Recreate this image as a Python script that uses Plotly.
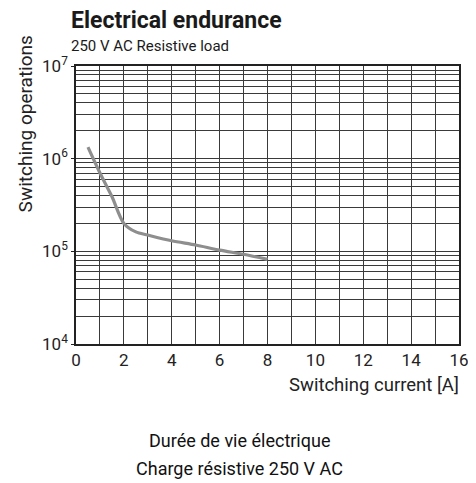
import plotly.graph_objects as go

# Data
current_a = [0.5, 1.0, 1.5, 2.0, 2.5, 3.0, 4.0, 5.0, 6.0, 7.0, 8.0]
operations = [1.33e6, 7.0e5, 3.9e5, 2.0e5, 1.62e5, 1.5e5, 1.30e5, 1.17e5, 1.03e5, 9.3e4, 8.2e4]

x_tickvals = [0, 2, 4, 6, 8, 10, 12, 14, 16]
x_ticktext = [str(v) for v in x_tickvals]
y_tickvals = [1e4, 1e5, 1e6, 1e7]
y_ticktext = ["10<sup>4</sup>", "10<sup>5</sup>", "10<sup>6</sup>", "10<sup>7</sup>"]

cond = "Roboto, Arial, sans-serif"
grid_col = "#3a3a3a"

fig = go.Figure()
fig.add_trace(go.Scatter(
    x=current_a, y=operations, mode="lines",
    line=dict(color="#8e8e8e", width=3.2, shape="spline", smoothing=0.8),
    hoverinfo="skip", showlegend=False,
))

fig.update_layout(
    width=468, height=475,
    margin=dict(l=68, r=17, t=58, b=139, autoexpand=False),
    paper_bgcolor="white", plot_bgcolor="white",
    font=dict(family=cond, color="#222"),
    xaxis=dict(
        range=[0, 16], tickvals=x_tickvals, ticktext=x_ticktext, automargin=False,
        showgrid=True, gridcolor=grid_col, gridwidth=1,
        minor=dict(dtick=1, tick0=0, showgrid=True, gridcolor=grid_col, gridwidth=1, ticks=""),
        showline=True, linecolor="#222", linewidth=1.5, mirror=True,
        ticks="", tickfont=dict(family=cond, size=17, color="#222"),
        zeroline=False,
    ),
    yaxis=dict(
        type="log", range=[4, 7], tickvals=y_tickvals, ticktext=y_ticktext, automargin=False,
        showgrid=True, gridcolor=grid_col, gridwidth=1,
        minor=dict(dtick="D1", showgrid=True, gridcolor=grid_col, gridwidth=1, ticks=""),
        showline=True, linecolor="#222", linewidth=1.5, mirror=True,
        ticks="outside", ticklen=3, tickcolor="#222",
        tickfont=dict(family=cond, size=17, color="#222"),
    ),
)

fig.add_annotation(text="<b>Electrical endurance</b>", xref="paper", yref="paper",
                   x=0, xshift=-7, y=1.0, yshift=30, xanchor="left", yanchor="bottom",
                   showarrow=False, font=dict(family=cond, size=23, color="#1a1a1a"))
fig.add_annotation(text="250 V AC Resistive load", xref="paper", yref="paper",
                   x=0, xshift=-7, y=1.0, yshift=9, xanchor="left", yanchor="bottom",
                   showarrow=False, font=dict(family=cond, size=15, color="#1a1a1a"))
fig.add_annotation(text="Switching operations", xref="paper", yref="paper",
                   x=0, xshift=-51, y=0.79, textangle=-90, xanchor="center", yanchor="middle",
                   showarrow=False, font=dict(family=cond, size=19, color="#222"))
fig.add_annotation(text="Switching current [A]", xref="paper", yref="paper",
                   x=1.0, xshift=2, y=0, yshift=-28, xanchor="right", yanchor="top",
                   showarrow=False, font=dict(family=cond, size=18.5, color="#222"))
fig.add_annotation(text="Durée de vie électrique", xref="paper", yref="paper",
                   x=0.5, xshift=-28, y=0, yshift=-84, xanchor="center", yanchor="top",
                   showarrow=False,
                   font=dict(family="Roboto, Arial, sans-serif", size=18, color="#111"))
fig.add_annotation(text="Charge résistive 250 V AC", xref="paper", yref="paper",
                   x=0.5, xshift=-28, y=0, yshift=-112, xanchor="center", yanchor="top",
                   showarrow=False,
                   font=dict(family="Roboto, Arial, sans-serif", size=18, color="#111"))

fig.write_html("out.html")
